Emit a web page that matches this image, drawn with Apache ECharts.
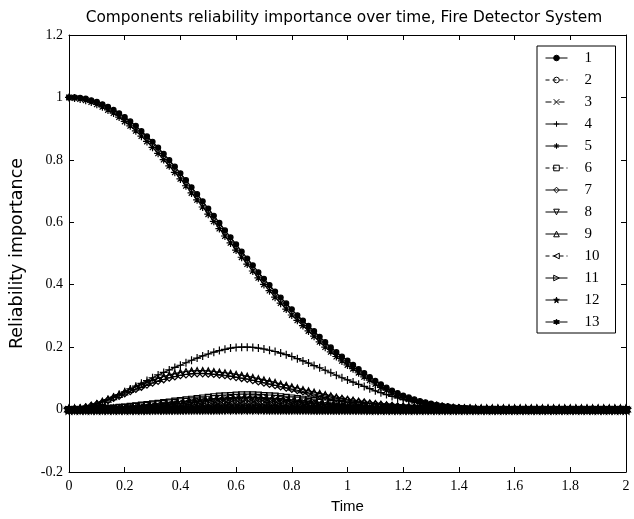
<!DOCTYPE html>
<html>
<head>
<meta charset="utf-8">
<script src="https://cdn.jsdelivr.net/npm/echarts@6/dist/echarts.min.js"></script>
<style>
html,body{margin:0;padding:0;background:#fff;}
#chart{width:634px;height:519px;}
</style>
</head>
<body>
<div id="chart"></div>
<script>
const title = 'Components reliability importance over time, Fire Detector System';
const xName = 'Time';
const yName = 'Reliability importance';
const names = ['1','2','3','4','5','6','7','8','9','10','11','12','13'];
const xTicks = [0,0.2,0.4,0.6,0.8,1,1.2,1.4,1.6,1.8,2];
const yTicks = [-0.2,0,0.2,0.4,0.6,0.8,1,1.2];

const time = [
0,0.02,0.04,0.06,0.08,0.1,0.12,0.14,0.16,0.18,
0.2,0.22,0.24,0.26,0.28,0.3,0.32,0.34,0.36,0.38,
0.4,0.42,0.44,0.46,0.48,0.5,0.52,0.54,0.56,0.58,
0.6,0.62,0.64,0.66,0.68,0.7,0.72,0.74,0.76,0.78,
0.8,0.82,0.84,0.86,0.88,0.9,0.92,0.94,0.96,0.98,
1,1.02,1.04,1.06,1.08,1.1,1.12,1.14,1.16,1.18,
1.2,1.22,1.24,1.26,1.28,1.3,1.32,1.34,1.36,1.38,
1.4,1.42,1.44,1.46,1.48,1.5,1.52,1.54,1.56,1.58,
1.6,1.62,1.64,1.66,1.68,1.7,1.72,1.74,1.76,1.78,
1.8,1.82,1.84,1.86,1.88,1.9,1.92,1.94,1.96,1.98,
2];

const comp1 = [
1.000,1.000,0.999,0.996,0.991,0.986,0.978,0.970,0.960,0.949,
0.937,0.923,0.909,0.892,0.875,0.858,0.839,0.819,0.799,0.778,
0.757,0.735,0.712,0.690,0.667,0.644,0.621,0.598,0.574,0.552,
0.529,0.506,0.484,0.462,0.440,0.419,0.399,0.378,0.359,0.340,
0.321,0.302,0.285,0.268,0.251,0.233,0.216,0.199,0.184,0.170,
0.157,0.143,0.130,0.117,0.104,0.092,0.081,0.070,0.061,0.053,
0.045,0.039,0.033,0.027,0.023,0.019,0.015,0.012,0.010,0.008,
0.006,0.005,0.004,0.003,0.002,0.002,0.001,0.001,0.001,0,
0,0,0,0,0,0,0,0,0,0,
0,0,0,0,0,0,0,0,0,0,
0];
const comp2 = [
0,0,0,0,0,0,0,0,0,0,
0,0,0.001,0.001,0.001,0.001,0.002,0.002,0.002,0.003,
0.003,0.003,0.004,0.004,0.004,0.005,0.005,0.005,0.005,0.006,
0.006,0.006,0.006,0.006,0.006,0.006,0.005,0.005,0.005,0.005,
0.004,0.004,0.004,0.004,0.003,0.003,0.003,0.003,0.002,0.002,
0.002,0.002,0.002,0.001,0.001,0.001,0.001,0.001,0.001,0.001,
0.001,0,0,0,0,0,0,0,0,0,
0,0,0,0,0,0,0,0,0,0,
0,0,0,0,0,0,0,0,0,0,
0,0,0,0,0,0,0,0,0,0,
0];
const comp3 = [
0,0,0,0,0.001,0.001,0.001,0.002,0.002,0.003,
0.004,0.005,0.006,0.007,0.008,0.009,0.010,0.011,0.013,0.014,
0.015,0.016,0.017,0.018,0.019,0.020,0.021,0.022,0.022,0.023,
0.023,0.024,0.024,0.024,0.023,0.023,0.022,0.021,0.020,0.019,
0.018,0.017,0.016,0.015,0.014,0.013,0.012,0.011,0.010,0.009,
0.008,0.007,0.007,0.006,0.005,0.005,0.004,0.004,0.003,0.003,
0.002,0.002,0.002,0.002,0.001,0.001,0.001,0.001,0.001,0,
0,0,0,0,0,0,0,0,0,0,
0,0,0,0,0,0,0,0,0,0,
0,0,0,0,0,0,0,0,0,0,
0];
const comp4 = [
0,0.001,0.003,0.007,0.012,0.018,0.025,0.032,0.040,0.048,
0.057,0.066,0.075,0.084,0.093,0.102,0.111,0.119,0.127,0.135,
0.142,0.150,0.158,0.165,0.172,0.178,0.184,0.189,0.193,0.197,
0.199,0.200,0.200,0.199,0.197,0.194,0.190,0.186,0.181,0.176,
0.170,0.163,0.156,0.149,0.141,0.134,0.126,0.118,0.110,0.102,
0.095,0.088,0.081,0.074,0.067,0.060,0.054,0.048,0.042,0.037,
0.032,0.028,0.024,0.020,0.017,0.014,0.012,0.010,0.008,0.006,
0.005,0.004,0.003,0.002,0.002,0.001,0.001,0.001,0,0,
0,0,0,0,0,0,0,0,0,0,
0,0,0,0,0,0,0,0,0,0,
0];
const comp5 = [
1.000,0.998,0.995,0.991,0.985,0.978,0.970,0.960,0.950,0.937,
0.923,0.909,0.893,0.876,0.859,0.840,0.821,0.801,0.781,0.760,
0.739,0.717,0.694,0.672,0.649,0.626,0.603,0.580,0.556,0.534,
0.511,0.488,0.466,0.444,0.422,0.401,0.381,0.360,0.341,0.322,
0.303,0.286,0.269,0.252,0.235,0.217,0.200,0.185,0.170,0.156,
0.143,0.131,0.118,0.105,0.094,0.082,0.071,0.062,0.053,0.045,
0.039,0.033,0.027,0.023,0.019,0.015,0.013,0.010,0.008,0.006,
0.005,0.004,0.003,0.002,0.002,0.001,0.001,0.001,0,0,
0,0,0,0,0,0,0,0,0,0,
0,0,0,0,0,0,0,0,0,0,
0];
const comp6 = [
0,0,0,0.001,0.001,0.002,0.003,0.004,0.005,0.007,
0.008,0.010,0.012,0.014,0.016,0.018,0.020,0.022,0.024,0.027,
0.029,0.031,0.033,0.035,0.037,0.039,0.041,0.043,0.044,0.045,
0.046,0.047,0.047,0.047,0.046,0.045,0.044,0.043,0.041,0.039,
0.037,0.035,0.033,0.031,0.029,0.027,0.025,0.023,0.021,0.019,
0.017,0.015,0.014,0.012,0.011,0.010,0.009,0.008,0.007,0.006,
0.005,0.004,0.004,0.003,0.003,0.002,0.002,0.002,0.001,0.001,
0.001,0.001,0.001,0,0,0,0,0,0,0,
0,0,0,0,0,0,0,0,0,0,
0,0,0,0,0,0,0,0,0,0,
0];
const comp7 = [
0,0.001,0.003,0.007,0.012,0.017,0.023,0.030,0.037,0.044,
0.052,0.059,0.066,0.073,0.080,0.086,0.092,0.097,0.102,0.106,
0.110,0.113,0.115,0.116,0.116,0.115,0.114,0.112,0.110,0.107,
0.104,0.101,0.098,0.094,0.090,0.086,0.082,0.078,0.074,0.070,
0.066,0.062,0.058,0.054,0.050,0.046,0.043,0.040,0.036,0.033,
0.030,0.027,0.024,0.022,0.019,0.017,0.015,0.013,0.012,0.010,
0.009,0.008,0.007,0.006,0.005,0.004,0.003,0.003,0.002,0.002,
0.002,0.001,0.001,0.001,0.001,0.001,0,0,0,0,
0,0,0,0,0,0,0,0,0,0,
0,0,0,0,0,0,0,0,0,0,
0];
const comp8 = [
0,0,0,0.001,0.001,0.002,0.002,0.003,0.004,0.006,
0.007,0.008,0.010,0.012,0.013,0.015,0.017,0.019,0.021,0.023,
0.025,0.026,0.028,0.030,0.031,0.033,0.035,0.036,0.037,0.038,
0.039,0.040,0.040,0.040,0.039,0.038,0.037,0.036,0.035,0.033,
0.031,0.030,0.028,0.026,0.024,0.023,0.021,0.019,0.018,0.016,
0.014,0.013,0.012,0.010,0.009,0.008,0.007,0.006,0.006,0.005,
0.004,0.003,0.003,0.003,0.002,0.002,0.002,0.001,0.001,0.001,
0.001,0.001,0.001,0,0,0,0,0,0,0,
0,0,0,0,0,0,0,0,0,0,
0,0,0,0,0,0,0,0,0,0,
0];
const comp9 = [
0,0.001,0.004,0.008,0.013,0.019,0.026,0.033,0.041,0.049,
0.057,0.065,0.073,0.080,0.087,0.094,0.100,0.106,0.111,0.115,
0.119,0.122,0.124,0.125,0.125,0.124,0.122,0.120,0.118,0.116,
0.113,0.110,0.107,0.103,0.099,0.095,0.091,0.087,0.082,0.078,
0.073,0.069,0.064,0.060,0.056,0.052,0.048,0.044,0.040,0.036,
0.033,0.030,0.027,0.024,0.021,0.019,0.017,0.015,0.013,0.011,
0.010,0.008,0.007,0.006,0.005,0.004,0.004,0.003,0.003,0.002,
0.002,0.002,0.001,0.001,0.001,0.001,0,0,0,0,
0,0,0,0,0,0,0,0,0,0,
0,0,0,0,0,0,0,0,0,0,
0];
const comp10 = [
0,0,0,0.001,0.001,0.002,0.002,0.003,0.004,0.005,
0.006,0.007,0.009,0.010,0.012,0.013,0.015,0.017,0.018,0.020,
0.022,0.023,0.025,0.026,0.028,0.029,0.030,0.031,0.032,0.033,
0.034,0.034,0.034,0.033,0.033,0.032,0.031,0.030,0.029,0.027,
0.026,0.024,0.023,0.021,0.020,0.018,0.017,0.015,0.014,0.013,
0.011,0.010,0.009,0.008,0.007,0.006,0.006,0.005,0.004,0.004,
0.003,0.003,0.002,0.002,0.002,0.001,0.001,0.001,0.001,0.001,
0.001,0,0,0,0,0,0,0,0,0,
0,0,0,0,0,0,0,0,0,0,
0,0,0,0,0,0,0,0,0,0,
0];
const comp11 = [
0,0,0,0,0,0,0.001,0.001,0.001,0.001,
0.002,0.002,0.003,0.003,0.004,0.004,0.005,0.005,0.006,0.007,
0.007,0.008,0.008,0.009,0.009,0.010,0.010,0.011,0.011,0.011,
0.012,0.012,0.012,0.012,0.012,0.011,0.011,0.011,0.010,0.010,
0.009,0.009,0.008,0.008,0.007,0.007,0.006,0.006,0.005,0.005,
0.004,0.004,0.003,0.003,0.003,0.002,0.002,0.002,0.002,0.001,
0.001,0.001,0.001,0.001,0.001,0,0,0,0,0,
0,0,0,0,0,0,0,0,0,0,
0,0,0,0,0,0,0,0,0,0,
0,0,0,0,0,0,0,0,0,0,
0];
const comp12 = [
0,0,0,0,0,0,0,0,0,0,
0,0,0,0,0,0.001,0.001,0.001,0.001,0.001,
0.001,0.002,0.002,0.002,0.002,0.002,0.002,0.002,0.003,0.003,
0.003,0.003,0.003,0.003,0.003,0.003,0.002,0.002,0.002,0.002,
0.002,0.002,0.002,0.002,0.001,0.001,0.001,0.001,0.001,0.001,
0.001,0.001,0.001,0.001,0,0,0,0,0,0,
0,0,0,0,0,0,0,0,0,0,
0,0,0,0,0,0,0,0,0,0,
0,0,0,0,0,0,0,0,0,0,
0,0,0,0,0,0,0,0,0,0,
0];
const comp13 = [
0,0,0,0,0,0,0,0,0,0,
0,0,0,0,0,0,0,0,0,0,
0,0,0,0,0,0,0,0,0,0,
0,0,0,0,0,0,0,0,0,0,
0,0,0,0,0,0,0,0,0,0,
0,0,0,0,0,0,0,0,0,0,
0,0,0,0,0,0,0,0,0,0,
0,0,0,0,0,0,0,0,0,0,
0,0,0,0,0,0,0,0,0,0,
0,0,0,0,0,0,0,0,0,0,
0];

const values = [comp1,comp2,comp3,comp4,comp5,comp6,comp7,comp8,comp9,comp10,comp11,comp12,comp13];

const P_PLUS = 'path://M5,0V10M0,5H10';
const P_X = 'path://M0,0L10,10M10,0L0,10';
const P_AST = 'path://M5,0V10M0,5H10M1.5,1.5L8.5,8.5M8.5,1.5L1.5,8.5';
const P_PENT = 'path://M5,0L6.176,3.382L9.755,3.455L6.902,5.618L7.939,9.045L5,7L2.061,9.045L3.098,5.618L0.245,3.455L3.824,3.382Z';
const P_HEX = 'path://M5,0L6.443,2.5L9.33,2.5L7.887,5L9.33,7.5L6.443,7.5L5,10L3.557,7.5L0.67,7.5L2.113,5L0.67,2.5L3.557,2.5Z';
const HOLLOW = 'rgba(0,0,0,0)';
const DASH = [4,3];
const DASHDOT = [6,3,1,3];

const styles = [
  {symbol:'circle', size:5, fill:'#000', line:'solid'},
  {symbol:'circle', size:6, fill:HOLLOW, line:DASH},
  {symbol:P_X, size:6, fill:HOLLOW, line:DASHDOT},
  {symbol:P_PLUS, size:8, fill:HOLLOW, line:'solid'},
  {symbol:P_AST, size:8, fill:HOLLOW, line:'solid'},
  {symbol:'rect', size:6, fill:HOLLOW, line:DASH},
  {symbol:'diamond', size:7, fill:HOLLOW, line:'solid'},
  {symbol:'triangle', size:6, fill:HOLLOW, line:'solid', rot:180},
  {symbol:'triangle', size:6, fill:HOLLOW, line:'solid'},
  {symbol:'triangle', size:6, fill:HOLLOW, line:DASH, rot:90},
  {symbol:'triangle', size:6, fill:HOLLOW, line:'solid', rot:-90},
  {symbol:P_PENT, size:9, fill:'#000', line:'solid'},
  {symbol:P_HEX, size:9, fill:'#000', line:'solid'}
];

const series = names.map((n, k) => ({
  name: n,
  type: 'line',
  data: time.map((t, i) => [t, values[k][i]]),
  symbol: styles[k].symbol,
  symbolSize: styles[k].size,
  symbolRotate: styles[k].rot || 0,
  showSymbol: true,
  showAllSymbol: true,
  animation: false,
  lineStyle: {color:'#000', width:1.2, type: styles[k].line},
  itemStyle: {color: styles[k].fill, borderColor:'#000', borderWidth:1.2},
  emphasis: {disabled:true}
}));

const tickFont = {fontFamily:'Liberation Serif', fontSize:14, color:'#000'};
const axisCommon = {
  axisLine:{show:true, onZero:false, lineStyle:{color:'#000', width:1}},
  axisTick:{show:true, inside:true, length:5, lineStyle:{color:'#000'}},
  splitLine:{show:false}
};

const chart = echarts.init(document.getElementById('chart'), null, {renderer:'canvas'});
chart.setOption({
  animation:false,
  backgroundColor:'#fff',
  title:{text:title, left:339, top:5, textAlign:'center',
    textStyle:{fontFamily:'DejaVu Sans', fontSize:15.4, fontWeight:'normal', color:'#000'}},
  grid:{left:68, right:8, top:35, bottom:45, containLabel:false},
  legend:{
    orient:'vertical', left:537, top:46,
    data:names,
    itemWidth:22, itemHeight:7, itemGap:0,
    padding:[1,16,0,8],
    backgroundColor:'#fff', borderColor:'#000', borderWidth:1,
    lineStyle:{width:1},
    itemStyle:{borderWidth:1},
    textStyle:{fontFamily:'Liberation Serif', fontSize:15, lineHeight:22, color:'#000', padding:[0,0,0,12]},
    selectedMode:false
  },
  xAxis:[
    Object.assign({type:'value', min:0, max:2, interval:0.2, position:'bottom',
      name:xName, nameLocation:'middle', nameGap:27,
      nameTextStyle:{fontFamily:'Liberation Sans', fontSize:15, color:'#000'},
      axisLabel:Object.assign({margin:7}, tickFont)}, axisCommon),
    Object.assign({type:'value', min:0, max:2, interval:0.2, position:'top',
      axisLabel:{show:false}}, axisCommon)
  ],
  yAxis:[
    Object.assign({type:'value', min:-0.2, max:1.2, interval:0.2, position:'left',
      name:yName, nameLocation:'middle', nameGap:43,
      nameTextStyle:{fontFamily:'DejaVu Sans', fontSize:17.5, color:'#000'},
      axisLabel:Object.assign({margin:6}, tickFont)}, axisCommon),
    Object.assign({type:'value', min:-0.2, max:1.2, interval:0.2, position:'right',
      axisLabel:{show:false}}, axisCommon)
  ],
  series: series
});
</script>
</body>
</html>
